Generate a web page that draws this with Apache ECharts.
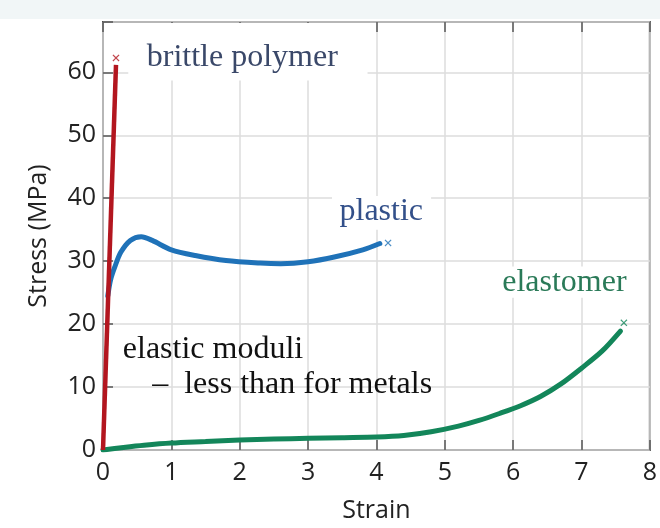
<!DOCTYPE html>
<html><head><meta charset="utf-8">
<script src="https://cdn.jsdelivr.net/npm/echarts@6/dist/echarts.min.js"></script>
<style>html,body{margin:0;padding:0;background:#fff}#c{width:660px;height:528px}</style>
</head><body><div id="c"></div>
<script>
const xTicks = [0,1,2,3,4,5,6,7,8];
const yTicks = [0,10,20,30,40,50,60];

const brittleX = [0, 0.19];
const brittleY = [0, 61.2];
const brittleEnd = [0.19, 62.3];

const plasticX = [0.07, 0.11, 0.17, 0.26, 0.4, 0.56, 0.72, 1.0, 1.35, 1.8, 2.3, 2.6, 3.0, 3.4, 3.8, 4.05];
const plasticY = [24.5, 27.0, 29.0, 31.4, 33.3, 33.9, 33.3, 31.8, 30.9, 30.1, 29.7, 29.6, 29.9, 30.7, 31.8, 32.8];
const plasticEnd = [4.17, 32.9];

const elastX = [0, 0.3, 0.6, 1, 1.5, 2, 2.5, 3, 3.5, 4, 4.4, 4.8, 5.2, 5.5, 5.8, 6.1, 6.4, 6.7, 7.0, 7.3, 7.57];
const elastY = [0, 0.4, 0.75, 1.1, 1.35, 1.6, 1.75, 1.85, 1.95, 2.05, 2.3, 2.9, 3.8, 4.7, 5.8, 7.0, 8.5, 10.5, 13.0, 15.7, 18.9];
const elastEnd = [7.62, 20.2];

const labelTexts = ['brittle polymer', 'plastic', 'elastomer', 'elastic moduli', '\u2013  less than for metals'];
const labelPos = [[0.64, 62.4], [3.46, 37.8], [5.84, 26.6], [0.29, 15.9], [0.72, 10.4]];
const labelColors = ['#3a4869', '#33508a', '#2a7a58', '#111', '#111'];
// white boxes behind some labels: [xmin, ymax, xmax, ymin] in data units
const labelBoxes = [[0.37, 68, 3.87, 58.7], [3.35, 40.5, 4.8, 35.0], [5.78, 29.3, 7.8, 24.2]];

const RED = '#b3161f', BLUE = '#1f72b8', GREEN = '#13865a';
const pairs = (xs, ys) => xs.map((x, i) => [x, ys[i]]);
const CROSS = 'path://M0,1.2L1.2,0L5,3.8L8.8,0L10,1.2L6.2,5L10,8.8L8.8,10L5,6.2L1.2,10L0,8.8L3.8,5Z';
const SANS = '"Open Sans", "Noto Sans", sans-serif';
const SERIF = '"Liberation Serif", "DejaVu Serif", serif';

const chart = echarts.init(document.getElementById('c'), null, {renderer: 'canvas'});
const baseX = {
  type: 'value', min: xTicks[0], max: xTicks[xTicks.length - 1], interval: 1
};
chart.setOption({
  animation: false,
  backgroundColor: '#fff',
  grid: {left: 103, right: 9, top: 22, bottom: 75, show: true, borderColor: '#4a4a4a', borderWidth: 2, backgroundColor: '#fff'},
  xAxis: [
    Object.assign({}, baseX, {
      position: 'bottom',
      axisLine: {show: false},
      axisTick: {inside: true, length: 10, lineStyle: {color: '#555', width: 1.5}},
      splitLine: {show: true, lineStyle: {color: '#dcdcdc', width: 1.5}},
      axisLabel: {fontFamily: SANS, fontSize: 25, color: '#222', margin: 10},
      name: 'Strain', nameLocation: 'middle', nameGap: 48,
      nameTextStyle: {fontFamily: SANS, fontSize: 25, color: '#222'}
    }),
    Object.assign({}, baseX, {
      position: 'top',
      axisLine: {show: false},
      axisTick: {inside: true, length: 10, lineStyle: {color: '#555', width: 1.5}},
      splitLine: {show: false},
      axisLabel: {show: false}
    })
  ],
  yAxis: {
    type: 'value', min: yTicks[0], max: 68, interval: 10,
    axisLine: {show: false},
    axisTick: {inside: true, length: 10, lineStyle: {color: '#555', width: 1.5}},
    splitLine: {show: true, lineStyle: {color: '#dcdcdc', width: 1.5}},
    axisLabel: {fontFamily: SANS, fontSize: 25, color: '#222', margin: 7,
      formatter: v => (yTicks.indexOf(v) >= 0 ? String(v) : '')},
    name: 'Stress (MPa)', nameLocation: 'middle', nameGap: 52,
    nameTextStyle: {fontFamily: SANS, fontSize: 25, color: '#222'}
  },
  series: [
    {type: 'line', data: pairs(plasticX, plasticY), smooth: 0.3, showSymbol: false, symbol: 'none',
     lineStyle: {color: BLUE, width: 5, cap: 'round'}, z: 3},
    {type: 'line', data: pairs(elastX, elastY), smooth: 0.3, showSymbol: false, symbol: 'none',
     lineStyle: {color: GREEN, width: 5, cap: 'round'}, z: 3},
    {type: 'line', data: pairs(brittleX, brittleY), showSymbol: false, symbol: 'none',
     lineStyle: {color: RED, width: 4.5}, z: 4},
    {type: 'scatter', data: [brittleEnd], symbol: CROSS, symbolSize: 7, itemStyle: {color: RED}, z: 5},
    {type: 'scatter', data: [plasticEnd], symbol: CROSS, symbolSize: 7, itemStyle: {color: BLUE}, z: 5},
    {type: 'scatter', data: [elastEnd], symbol: CROSS, symbolSize: 7, itemStyle: {color: GREEN}, z: 5}
  ]
});

const graphics = [{type: 'rect', shape: {x: 0, y: 0, width: 660, height: 19}, style: {fill: '#f1f6f7'}, z: 0}];
labelBoxes.forEach(b => {
  const p1 = chart.convertToPixel({xAxisIndex: 0, yAxisIndex: 0}, [b[0], b[1]]);
  const p2 = chart.convertToPixel({xAxisIndex: 0, yAxisIndex: 0}, [b[2], b[3]]);
  graphics.push({type: 'rect', z: 1, silent: true,
    shape: {x: p1[0], y: p1[1] + 1, width: p2[0] - p1[0], height: p2[1] - p1[1] - 1},
    style: {fill: '#fff'}});
});
labelTexts.forEach((t, i) => {
  const p = chart.convertToPixel({xAxisIndex: 0, yAxisIndex: 0}, labelPos[i]);
  graphics.push({
    type: 'text', x: p[0], y: p[1], z: 10,
    style: {text: t, fontFamily: SERIF, fontSize: 32, fill: labelColors[i],
      verticalAlign: 'middle', align: 'left'}
  });
});
chart.setOption({graphic: graphics});
</script></body></html>
